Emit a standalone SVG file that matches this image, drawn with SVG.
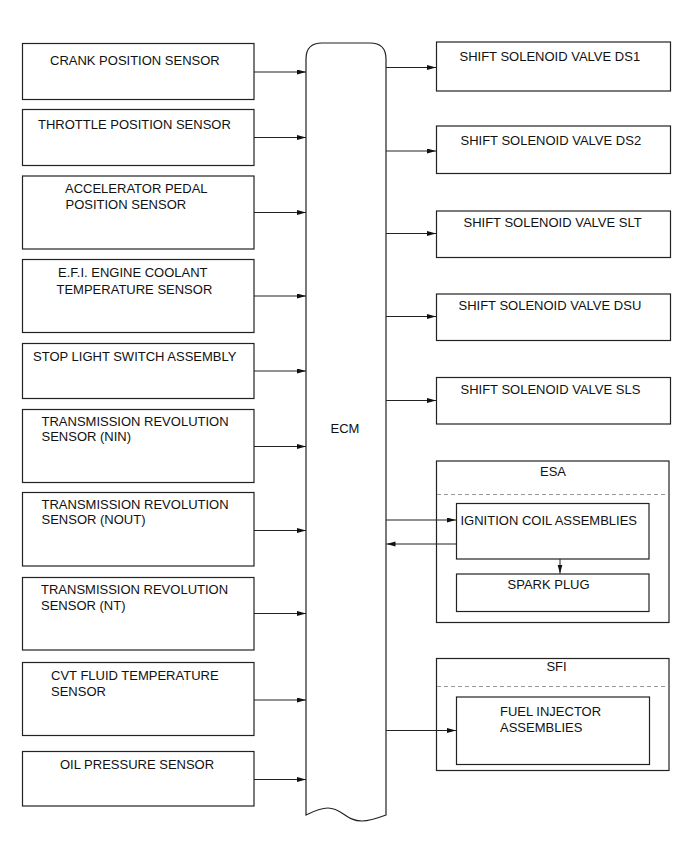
<svg xmlns="http://www.w3.org/2000/svg" width="691" height="854" viewBox="0 0 691 854">
<defs>
<marker id="ah" markerUnits="userSpaceOnUse" markerWidth="10" markerHeight="6" refX="9" refY="2.5" orient="auto">
<path d="M0,0 L9,2.5 L0,5 z" fill="#111"/>
</marker>
</defs>
<style>
rect{fill:#fff;stroke:#222;stroke-width:1.2}
text{font-family:"Liberation Sans",Arial,sans-serif;font-size:13px;fill:#111}
.c{text-anchor:middle}
.conn line{stroke:#222;stroke-width:1;marker-end:url(#ah)}
.dash{stroke:#999;stroke-width:1;stroke-dasharray:4,3}
</style>
<rect x="0" y="0" width="691" height="854" style="fill:#fff;stroke:none"/>

<g id="ecm">
<path d="M306,815 L306,59 Q306,43 322,43 L370,43 Q386,43 386,59 L386,815 C378,818 370,821 362,821 C346,821 342,808 328,808 C322,808 316,810 306,815 Z" fill="#fff" stroke="#222" stroke-width="1.2"/>
<text class="c" x="345" y="433">ECM</text>
</g>

<g id="crank"><rect x="22.5" y="43.5" width="231.5" height="56"/><text x="50" y="65">CRANK POSITION SENSOR</text></g>
<g id="throttle"><rect x="22.5" y="109.5" width="231.5" height="56"/><text x="38" y="129">THROTTLE POSITION SENSOR</text></g>
<g id="accel"><rect x="22.5" y="176" width="231.5" height="73"/><text x="65" y="193">ACCELERATOR PEDAL</text><text x="65.5" y="209">POSITION SENSOR</text></g>
<g id="efi"><rect x="22.5" y="259.5" width="231.5" height="73"/><text x="58" y="277">E.F.I. ENGINE COOLANT</text><text x="56.5" y="293.5">TEMPERATURE SENSOR</text></g>
<g id="stop"><rect x="22.5" y="343.5" width="231.5" height="55"/><text x="33" y="361">STOP LIGHT SWITCH ASSEMBLY</text></g>
<g id="nin"><rect x="22.5" y="409.5" width="231.5" height="73"/><text x="41.5" y="426">TRANSMISSION REVOLUTION</text><text x="41.5" y="441">SENSOR (NIN)</text></g>
<g id="nout"><rect x="22.5" y="492.5" width="231.5" height="73.5"/><text x="41.5" y="509">TRANSMISSION REVOLUTION</text><text x="41.5" y="524">SENSOR (NOUT)</text></g>
<g id="nt"><rect x="22.5" y="577.5" width="231.5" height="72.5"/><text x="41" y="593.5">TRANSMISSION REVOLUTION</text><text x="41" y="609.5">SENSOR (NT)</text></g>
<g id="cvt"><rect x="22.5" y="662.5" width="231.5" height="73"/><text x="51" y="679.5">CVT FLUID TEMPERATURE</text><text x="51" y="696">SENSOR</text></g>
<g id="oil"><rect x="22.5" y="751.5" width="231.5" height="54.5"/><text x="60" y="769">OIL PRESSURE SENSOR</text></g>

<g id="ds1"><rect x="436.5" y="42" width="234" height="49"/><text x="459.5" y="61">SHIFT SOLENOID VALVE DS1</text></g>
<g id="ds2"><rect x="436.5" y="126" width="234" height="47.5"/><text x="460.5" y="144.5">SHIFT SOLENOID VALVE DS2</text></g>
<g id="slt"><rect x="436.5" y="211" width="234" height="46.5"/><text x="463.5" y="227">SHIFT SOLENOID VALVE SLT</text></g>
<g id="dsu"><rect x="436.5" y="294" width="234" height="46.5"/><text x="458.5" y="310">SHIFT SOLENOID VALVE DSU</text></g>
<g id="sls"><rect x="436.5" y="377.5" width="234" height="46.5"/><text x="460.5" y="394">SHIFT SOLENOID VALVE SLS</text></g>

<g id="esa">
<rect x="436.5" y="461" width="232.5" height="161.5"/>
<text class="c" x="553" y="475.5">ESA</text>
<line class="dash" x1="437" y1="494.5" x2="668.5" y2="494.5"/>
</g>
<g id="ignition"><rect x="456.5" y="503.5" width="192.5" height="55.5"/><text x="460.5" y="525">IGNITION COIL ASSEMBLIES</text></g>
<g id="spark"><rect x="456.5" y="574" width="192.5" height="37.5"/><text x="507.5" y="588.5">SPARK PLUG</text></g>

<g id="sfi">
<rect x="436.5" y="658.5" width="232.5" height="112"/>
<text class="c" x="556.5" y="671">SFI</text>
<line class="dash" x1="437" y1="686.5" x2="668.5" y2="686.5"/>
</g>
<g id="injector"><rect x="456.5" y="697" width="193" height="67.5"/><text x="500" y="716">FUEL INJECTOR</text><text x="500" y="731.5">ASSEMBLIES</text></g>

<g class="conn" id="connectors">
<line x1="254" y1="72" x2="306" y2="72"/>
<line x1="254" y1="137.5" x2="306" y2="137.5"/>
<line x1="254" y1="212.5" x2="306" y2="212.5"/>
<line x1="254" y1="296" x2="306" y2="296"/>
<line x1="254" y1="371" x2="306" y2="371"/>
<line x1="254" y1="446.5" x2="306" y2="446.5"/>
<line x1="254" y1="530.5" x2="306" y2="530.5"/>
<line x1="254" y1="613.5" x2="306" y2="613.5"/>
<line x1="254" y1="700" x2="306" y2="700"/>
<line x1="254" y1="779.5" x2="306" y2="779.5"/>
<line x1="386" y1="67.5" x2="436" y2="67.5"/>
<line x1="386" y1="151" x2="436" y2="151"/>
<line x1="386" y1="233.5" x2="436" y2="233.5"/>
<line x1="386" y1="316.5" x2="436" y2="316.5"/>
<line x1="386" y1="400.5" x2="436" y2="400.5"/>
<line x1="386" y1="520" x2="456" y2="520"/>
<line x1="456" y1="544" x2="386.5" y2="544"/>
<line x1="560" y1="559" x2="560" y2="573.5"/>
<line x1="386" y1="730.5" x2="456" y2="730.5"/>
</g>
</svg>
